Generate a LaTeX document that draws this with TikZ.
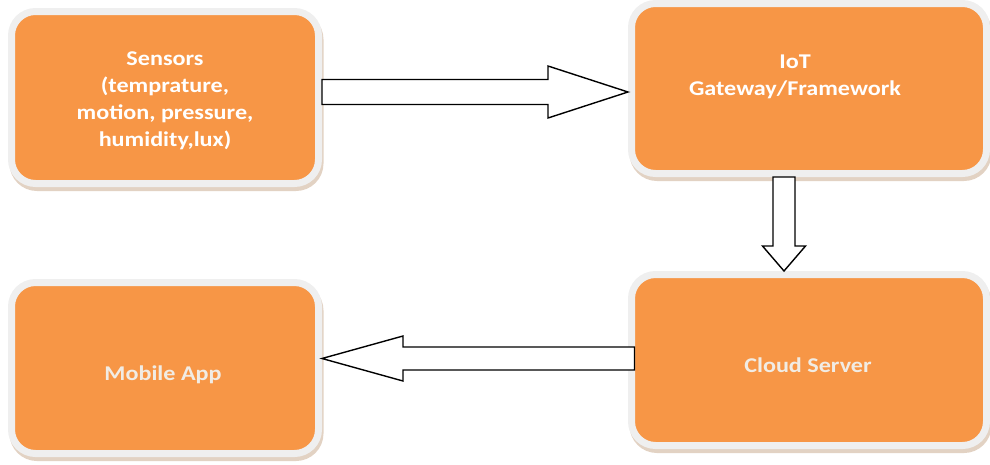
\documentclass[tikz,border=0pt]{standalone}
\usepackage{fontspec}
\newfontfamily\boxfont[FakeStretch=1.15]{Carlito}
\usetikzlibrary{calc}
\definecolor{boxorange}{HTML}{F79646}
\definecolor{ringgrey}{HTML}{EFEFEF}
\definecolor{shadowtan}{HTML}{E2D2C3}
\definecolor{paletext}{HTML}{F1ECE4}
\tikzset{
  box/.style={rectangle, rounded corners=24pt, fill=boxorange, draw=ringgrey, line width=7pt, inner sep=0pt},
  boxshadow/.style={rectangle, rounded corners=24pt, fill=shadowtan, draw=shadowtan, line width=7pt, inner sep=0pt},
  boxtext/.style={text=white, font=\boxfont\bfseries\fontsize{21}{27}\selectfont, align=center, inner sep=0pt},
  blockarrow/.style={draw=black, fill=white, line width=1.4pt, line join=miter},
}
\begin{document}
\begin{tikzpicture}[x=1pt, y=-1pt]
\useasboundingbox (0,0) rectangle (990,464);
% shadows
\node[boxshadow, minimum width=307pt, minimum height=172pt] (sensorsSh) at (166.5,101.5) {};
\node[boxshadow, minimum width=355pt, minimum height=170pt] (iotSh) at (810.5,92.5) {};
\node[boxshadow, minimum width=355pt, minimum height=171pt] (cloudSh) at (810.5,364) {};
\node[boxshadow, minimum width=307pt, minimum height=171pt] (mobileSh) at (166.5,372) {};
% boxes
\node[box, minimum width=307pt, minimum height=172pt] (sensors) at (165,97.5) {};
\node[box, minimum width=355pt, minimum height=170pt] (iot) at (809,88.5) {};
\node[box, minimum width=355pt, minimum height=171pt] (cloud) at (809,360) {};
\node[box, minimum width=307pt, minimum height=171pt] (mobile) at (165,368) {};
% texts
\node[boxtext] (sensorsT) at ($(sensors.center)+(0,3.5)$) {Sensors\\(temprature,\\motion, pressure,\\humidity,lux)};
\node[boxtext] (iotT) at ($(iot.center)+(-14,-12)$) {IoT\\Gateway/Framework};
\node[boxtext, text=paletext] (cloudT) at ($(cloud.center)+(-1,5)$) {Cloud Server};
\node[boxtext, text=paletext] (mobileT) at ($(mobile.center)+(-2,7)$) {Mobile App};
% arrow sensors -> iot
\coordinate (r1) at ($(sensors.east)+(0,-5.5)$);
\coordinate (r2) at (iot.west |- r1);
\draw[blockarrow] ($(r1)+(0,-12.5)$) -- ($(r2)+(-80,-12.5)$) -- ($(r2)+(-80,-26)$) -- (r2)
  -- ($(r2)+(-80,26)$) -- ($(r2)+(-80,12.5)$) -- ($(r1)+(0,12.5)$) -- cycle;
% arrow iot -> cloud
\coordinate (d1) at ($(iot.south)+(-25,0)$);
\coordinate (d2) at (d1 |- cloud.north);
\draw[blockarrow] ($(d1)+(-11,0)$) -- ($(d2)+(-11,-25)$) -- ($(d2)+(-21.5,-25)$) -- (d2)
  -- ($(d2)+(21.5,-25)$) -- ($(d2)+(11,-25)$) -- ($(d1)+(11,0)$) -- cycle;
% arrow cloud -> mobile
\coordinate (l1) at ($(cloud.west)+(6.5,-1.5)$);
\coordinate (l2) at (mobile.east |- l1);
\draw[blockarrow] ($(l1)+(0,-11.5)$) -- ($(l2)+(81,-11.5)$) -- ($(l2)+(81,-22.5)$) -- (l2)
  -- ($(l2)+(81,22.5)$) -- ($(l2)+(81,11.5)$) -- ($(l1)+(0,11.5)$) -- cycle;
\end{tikzpicture}
\end{document}
